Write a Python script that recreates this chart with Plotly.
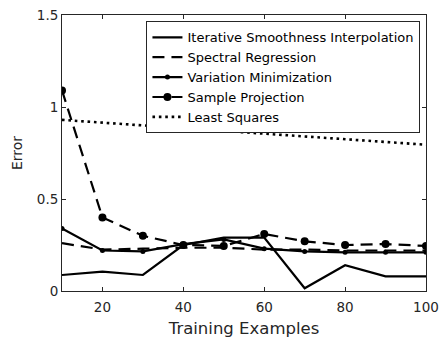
import plotly.graph_objects as go

x = [10, 20, 30, 40, 50, 60, 70, 80, 90, 100]
isi = [0.087, 0.105, 0.087, 0.25, 0.29, 0.29, 0.015, 0.14, 0.08, 0.08]
sr = [0.26, 0.225, 0.23, 0.235, 0.235, 0.225, 0.225, 0.22, 0.22, 0.22]
vm = [0.34, 0.22, 0.215, 0.255, 0.28, 0.23, 0.215, 0.21, 0.21, 0.21]
sp = [1.09, 0.40, 0.30, 0.25, 0.245, 0.31, 0.27, 0.25, 0.255, 0.245]
ls = [0.93, 0.915, 0.90, 0.885, 0.87, 0.855, 0.84, 0.825, 0.81, 0.795]

names = ["Iterative Smoothness Interpolation", "Spectral Regression",
         "Variation Minimization", "Sample Projection", "Least Squares"]
xticks = [20, 40, 60, 80, 100]
yticks = [0, 0.5, 1, 1.5]
ytick_labels = ["0", "0.5", "1", "1.5"]

FONT = "DejaVu Sans"

fig = go.Figure()
fig.add_trace(go.Scatter(x=x, y=isi, name=names[0], mode="lines",
                         line=dict(color="black", width=2.2)))
fig.add_trace(go.Scatter(x=x, y=sr, name=names[1], mode="lines",
                         line=dict(color="black", width=2.2, dash="12px,7px")))
fig.add_trace(go.Scatter(x=x, y=vm, name=names[2], mode="lines+markers",
                         line=dict(color="black", width=2.2),
                         marker=dict(color="black", size=5, symbol="circle")))
fig.add_trace(go.Scatter(x=x, y=sp, name=names[3], mode="lines+markers",
                         line=dict(color="black", width=2.2, dash="12px,7px"),
                         marker=dict(color="black", size=8, symbol="circle")))
fig.add_trace(go.Scatter(x=x, y=ls, name=names[4], mode="lines",
                         line=dict(color="black", width=2.6, dash="2.6px,3.8px")))

axis_common = dict(showline=True, linecolor="#262626", linewidth=1, mirror="ticks",
                   ticks="inside", ticklen=4, tickcolor="#262626", showgrid=False,
                   zeroline=False, automargin=False,
                   tickfont=dict(size=13.5, color="#262626"))

fig.update_layout(
    width=443, height=339,
    margin=dict(l=62, r=17, t=15, b=48),
    paper_bgcolor="white", plot_bgcolor="white",
    font=dict(family=FONT, color="#262626"),
    xaxis=dict(range=[10, 100], tickvals=xticks, ticklabelstandoff=4,
               title=dict(text="Training Examples", font=dict(size=16.5), standoff=8),
               **axis_common),
    yaxis=dict(range=[0, 1.5], tickvals=yticks, ticktext=ytick_labels,
               title=dict(text="Error", font=dict(size=14), standoff=10),
               **axis_common),
    legend=dict(x=0.232, y=0.977, xanchor="left", yanchor="top",
                bgcolor="white", bordercolor="#262626", borderwidth=1,
                font=dict(size=13, color="black", family=FONT), itemwidth=30,
                tracegroupgap=0),
    showlegend=True,
)

fig.write_html("out.html")
